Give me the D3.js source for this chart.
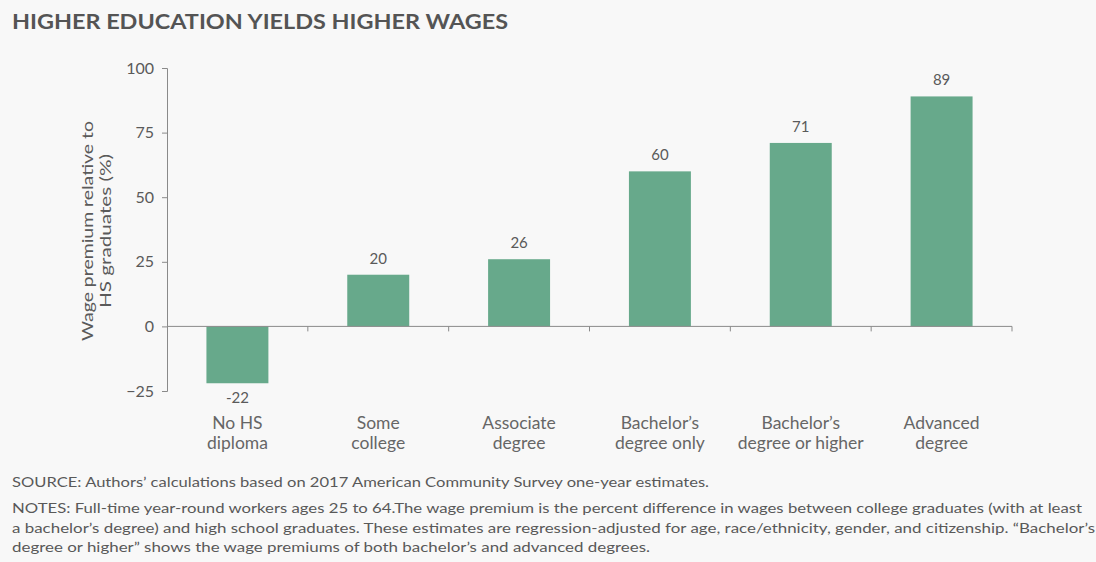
<!DOCTYPE html>
<html>
<head>
<meta charset="utf-8">
<script src="https://cdn.jsdelivr.net/npm/d3@7"></script>
<style>
  html, body { margin: 0; padding: 0; background: #f8f8f8; }
  svg { display: block; font-family: Lato, "Open Sans", sans-serif; }
</style>
</head>
<body>
<svg id="chart" width="1096" height="562"></svg>
<script>
// Wage premium relative to high-school graduates, by education level
const categories = [
  ["No HS", "diploma"],
  ["Some", "college"],
  ["Associate", "degree"],
  ["Bachelor\u2019s", "degree only"],
  ["Bachelor\u2019s", "degree or higher"],
  ["Advanced", "degree"]
];
const premiums = [-22, 20, 26, 60, 71, 89];
const yTicks = [-25, 0, 25, 50, 75, 100];

const svg = d3.select("#chart");
svg.append("rect").attr("width", 1096).attr("height", 562).attr("fill", "#f8f8f8");

const plotLeft = 167, plotRight = 1012, plotTop = 68, plotBottom = 391;
const keys = categories.map((c, i) => i);

const x = d3.scaleBand().domain(keys).range([plotLeft, plotRight]).paddingInner(0.56).paddingOuter(0.28);
const y = d3.scaleLinear().domain([-25, 100]).range([plotBottom, plotTop]);

const axisColor = "#8a8a8a";
const textColor = "#5a5a5a";

// Title
svg.append("text")
  .attr("x", 12).attr("y", 29)
  .attr("font-size", 20).attr("font-weight", 700)
  .attr("fill", "#545454")
  .attr("textLength", 496).attr("lengthAdjust", "spacingAndGlyphs")
  .text("HIGHER EDUCATION YIELDS HIGHER WAGES");

// Y axis
const yAxis = svg.append("g")
  .attr("transform", `translate(${plotLeft},0)`)
  .call(d3.axisLeft(y).tickValues(yTicks).tickSize(5).tickPadding(8));
yAxis.select(".domain").attr("stroke", axisColor);
yAxis.selectAll(".tick line").attr("stroke", axisColor);
yAxis.selectAll(".tick text")
  .attr("fill", textColor).attr("font-size", 16)
  .attr("font-family", "Lato, 'Open Sans', sans-serif");

// Y axis title
const yTitle = svg.append("text")
  .attr("transform", "translate(93,231) rotate(-90)")
  .attr("text-anchor", "middle")
  .attr("font-size", 16).attr("fill", textColor);
yTitle.append("tspan").attr("x", 0).attr("dy", 0)
  .attr("textLength", 220).attr("lengthAdjust", "spacingAndGlyphs")
  .text("Wage premium relative to");
yTitle.append("tspan").attr("x", 0).attr("dy", 18)
  .attr("textLength", 154).attr("lengthAdjust", "spacingAndGlyphs")
  .text("HS graduates (%)");

// Bars
svg.append("g").selectAll("rect")
  .data(premiums)
  .join("rect")
  .attr("x", (d, i) => x(i))
  .attr("width", x.bandwidth())
  .attr("y", d => y(Math.max(0, d)))
  .attr("height", d => Math.abs(y(d) - y(0)))
  .attr("fill", "#67a98b");

// Zero baseline with category boundary ticks
const boundaries = d3.range(1, categories.length + 1).map(k => plotLeft + k * (plotRight - plotLeft) / categories.length);
const xAxis = svg.append("g");
xAxis.append("line")
  .attr("x1", plotLeft).attr("x2", plotRight)
  .attr("y1", y(0)).attr("y2", y(0))
  .attr("stroke", axisColor);
xAxis.selectAll("line.tick")
  .data(boundaries)
  .join("line").attr("class", "tick")
  .attr("x1", d => d).attr("x2", d => d)
  .attr("y1", y(0)).attr("y2", y(0) + 5)
  .attr("stroke", axisColor);

// Value labels
svg.append("g").selectAll("text")
  .data(premiums)
  .join("text")
  .attr("x", (d, i) => x(i) + x.bandwidth() / 2)
  .attr("y", d => d >= 0 ? y(d) - 11 : y(d) + 20)
  .attr("text-anchor", "middle")
  .attr("font-size", 15).attr("fill", textColor)
  .text(d => d);

// Category labels
const catG = svg.append("g");
categories.forEach((lines, i) => {
  const cx = x(i) + x.bandwidth() / 2;
  const t = catG.append("text")
    .attr("x", cx)
    .attr("y", 429)
    .attr("text-anchor", "middle")
    .attr("font-size", 17.5).attr("fill", "#666");
  lines.forEach((ln, j) => {
    t.append("tspan").attr("x", cx).attr("dy", j === 0 ? 0 : 20).text(ln);
  });
});

// Source and notes
const notes = [
  ["SOURCE: Authors\u2019 calculations based on 2017 American Community Survey one-year estimates.", 487, 697],
  ["NOTES: Full-time year-round workers ages 25 to 64.The wage premium is the percent difference in wages between college graduates (with at least", 513, 1070],
  ["a bachelor\u2019s degree) and high school graduates. These estimates are regression-adjusted for age, race/ethnicity, gender, and citizenship. \u201cBachelor\u2019s", 533, 1083],
  ["degree or higher\u201d shows the wage premiums of both bachelor\u2019s and advanced degrees.", 552, 638]
];
svg.append("g").selectAll("text")
  .data(notes)
  .join("text")
  .attr("x", 12)
  .attr("y", d => d[1])
  .attr("font-size", 14).attr("fill", "#595959")
  .attr("textLength", d => d[2]).attr("lengthAdjust", "spacingAndGlyphs")
  .text(d => d[0]);
</script>
</body>
</html>
